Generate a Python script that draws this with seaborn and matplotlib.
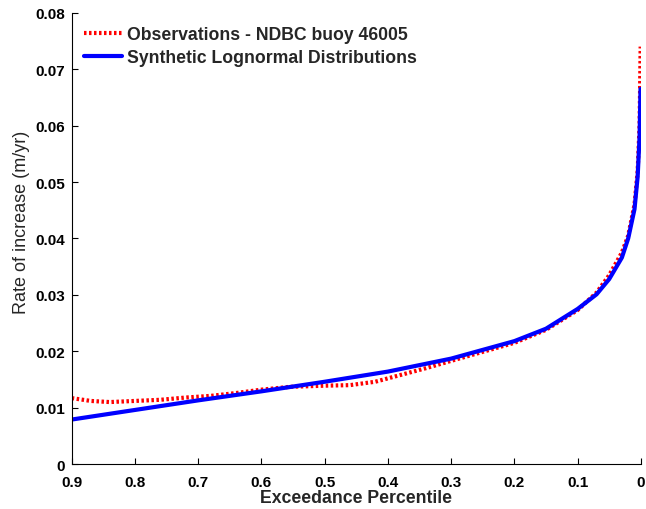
import matplotlib
matplotlib.use("Agg")
import matplotlib.pyplot as plt
import seaborn as sns
import pandas as pd

# Observed rate of increase vs exceedance percentile (NDBC buoy 46005)
obs_pct = [0.9, 0.87, 0.84, 0.8, 0.76, 0.72, 0.68, 0.64, 0.6, 0.555, 0.5, 0.46,
           0.42, 0.38, 0.34, 0.3, 0.25, 0.2, 0.15, 0.1, 0.07, 0.05, 0.03, 0.02,
           0.01, 0.005, 0.002, 0.001, 0.0003]
obs_rate = [0.0117, 0.0112, 0.0110, 0.0112, 0.0114, 0.0118, 0.0121, 0.0126, 0.0132,
            0.0137, 0.0139, 0.0140, 0.0146, 0.0158, 0.0170, 0.0183, 0.0199, 0.0215,
            0.0238, 0.0273, 0.0304, 0.0335, 0.0375, 0.0405, 0.0460, 0.0520, 0.0600,
            0.0680, 0.0740]

# Synthetic lognormal distributions
syn_pct = [0.9, 0.8, 0.7, 0.6, 0.5, 0.4, 0.3, 0.2, 0.15, 0.1, 0.07, 0.05, 0.03,
           0.02, 0.01, 0.005, 0.002, 0.0005]
syn_rate = [0.0079, 0.0096, 0.0113, 0.0129, 0.0146, 0.0164, 0.0187, 0.0218, 0.0240,
            0.0275, 0.0301, 0.0328, 0.0366, 0.0400, 0.0452, 0.0510, 0.0580, 0.0665]

x_ticks = [0.9, 0.8, 0.7, 0.6, 0.5, 0.4, 0.3, 0.2, 0.1, 0.0]
x_labels = ["0.9", "0.8", "0.7", "0.6", "0.5", "0.4", "0.3", "0.2", "0.1", "0"]
y_ticks = [0, 0.01, 0.02, 0.03, 0.04, 0.05, 0.06, 0.07, 0.08]
y_labels = ["0", "0.01", "0.02", "0.03", "0.04", "0.05", "0.06", "0.07", "0.08"]

obs = pd.DataFrame({"pct": obs_pct, "rate": obs_rate})
syn = pd.DataFrame({"pct": syn_pct, "rate": syn_rate})

sns.set_style("ticks")
plt.rcParams["font.family"] = ["Liberation Sans", "DejaVu Sans"]

fig = plt.figure(figsize=(6.46, 5.10), dpi=100)
ax = fig.add_axes([0.111, 0.088, 0.881, 0.885])

sns.lineplot(data=obs, x="pct", y="rate", ax=ax, color="red", lw=3,
             linestyle=(0, (0.6, 0.6)), sort=False,
             label="Observations - NDBC buoy 46005")
sns.lineplot(data=syn, x="pct", y="rate", ax=ax, color="blue", lw=3,
             sort=False, label="Synthetic Lognormal Distributions")

ax.set_xlim(0.9, 0.0)
ax.set_ylim(0, 0.08)
ax.set_xticks(x_ticks)
ax.set_xticklabels(x_labels)
ax.set_yticks(y_ticks)
ax.set_yticklabels(y_labels)
for lab in ax.get_xticklabels() + ax.get_yticklabels():
    lab.set_fontweight("bold")
    lab.set_fontsize(11)
ax.tick_params(direction="in", length=4, width=0.8, colors="black")
ax.tick_params(axis="x", pad=8)
ax.tick_params(axis="y", pad=5)

ax.set_xlabel("Exceedance Percentile", fontsize=12.7, fontweight="bold", labelpad=0)
ax.set_ylabel("Rate of increase (m/yr)", fontsize=13)
ax.yaxis.set_label_coords(-0.073, 0.537)

sns.despine(ax=ax)
for sp in ("left", "bottom"):
    ax.spines[sp].set_color("black")
    ax.spines[sp].set_linewidth(0.8)

leg = ax.legend(loc="upper left", bbox_to_anchor=(0.022, 0.97), frameon=False,
                borderaxespad=0, borderpad=0, handlelength=2.15,
                handletextpad=0.3, labelspacing=0.33,
                prop={"weight": "bold", "size": 12.7})

fig.savefig("out.png", dpi=100, facecolor="white")
